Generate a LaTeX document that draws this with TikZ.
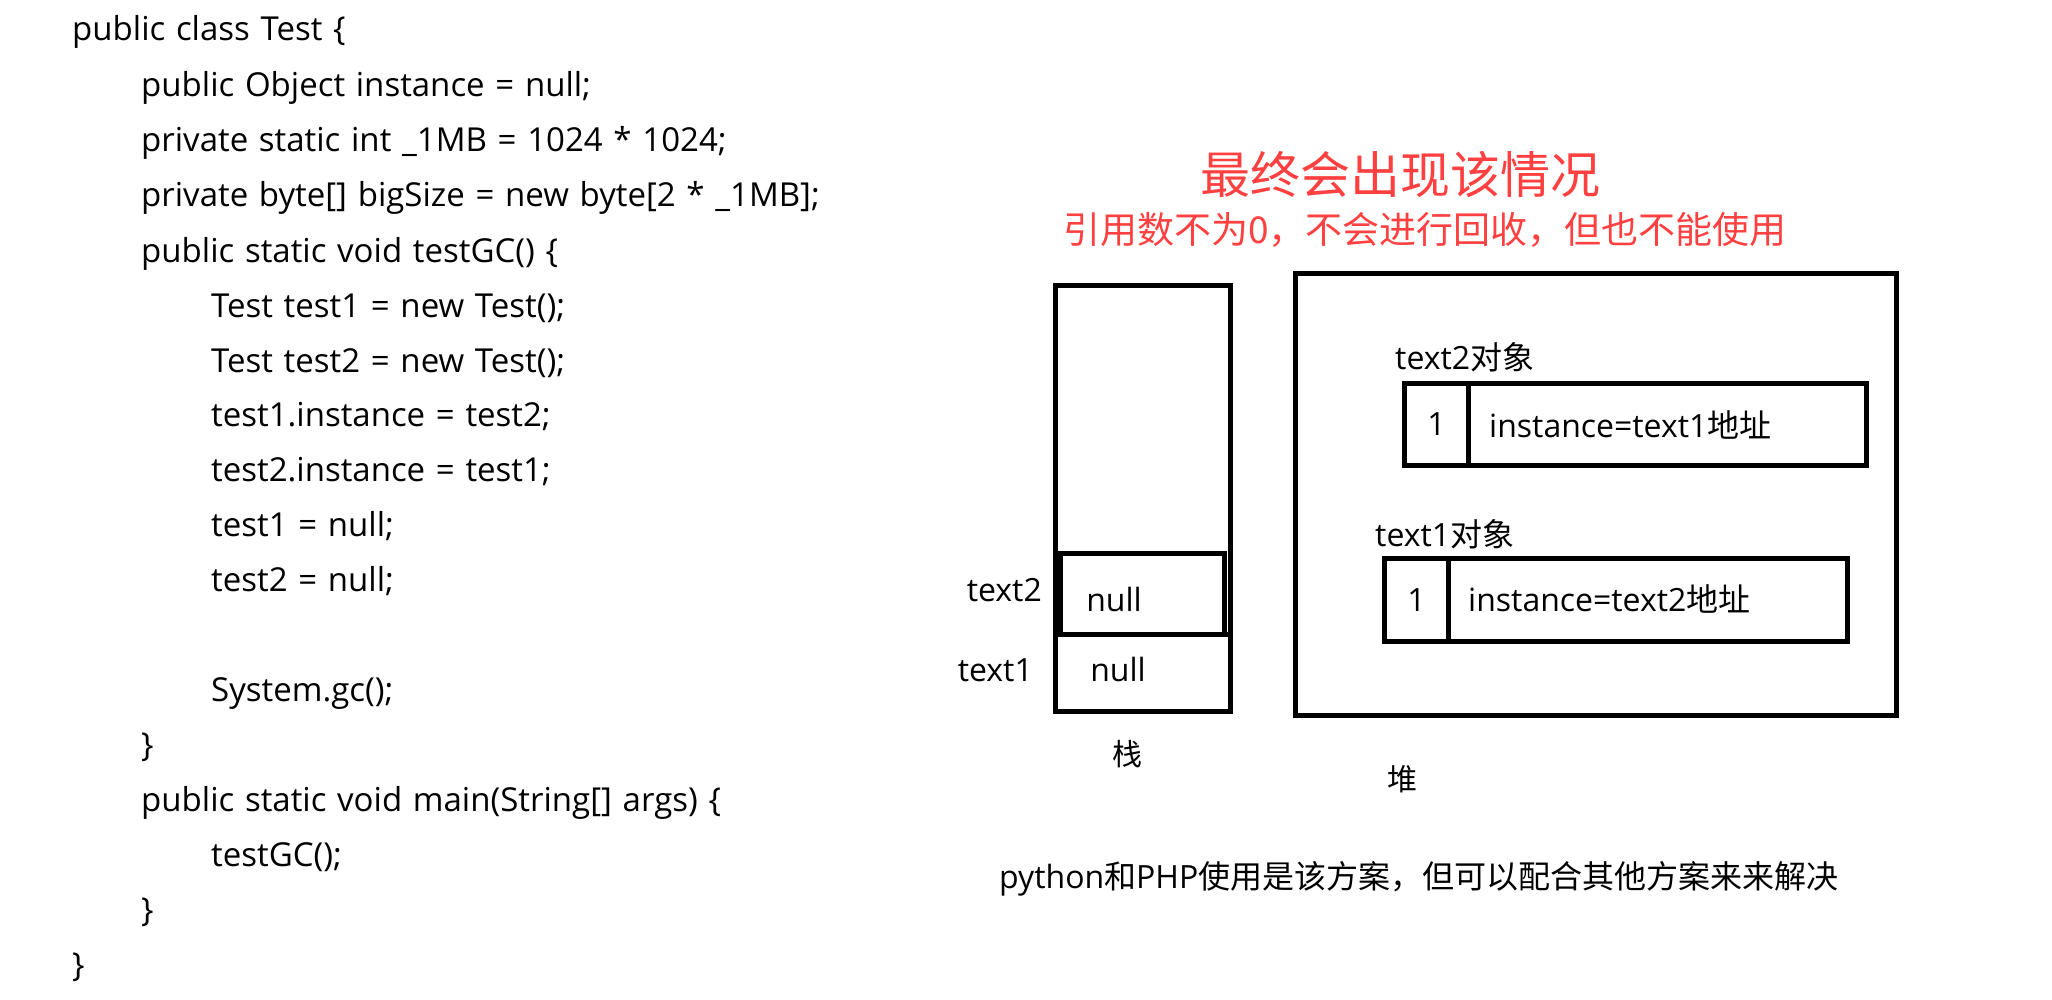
\documentclass[tikz,border=0pt]{standalone}
\usepackage{fontspec}
\setmainfont{Open Sans}
\newfontfamily\cjk{Noto Sans CJK SC}
\newfontfamily\codefont[WordSpace=1.25]{Open Sans}
\definecolor{alertred}{RGB}{255,64,64}
\tikzset{
  codeline/.style={anchor=base west, inner sep=0pt, font=\codefont\fontsize{33}{36}\selectfont},
  lbl/.style={inner sep=0pt, font=\fontsize{32}{35}\selectfont},
  cell/.style={draw, line width=5pt, anchor=north west, inner sep=0pt},
}
\begin{document}
\begin{tikzpicture}[x=1pt,y=-1pt]
\useasboundingbox[fill=white] (0,0) rectangle (2052,1000);
% code
\node[codeline] (c1) at (72,41) {public class Test \{};
\node[codeline] (c2) at (141,97) {public Object instance = null;};
\node[codeline] (c3) at (141,152) {private static int \_1MB = 1024 * 1024;};
\node[codeline] (c4) at (141,207) {private byte[] bigSize = new byte[2 * \_1MB];};
\node[codeline] (c5) at (141,262) {public static void testGC() \{};
\node[codeline] (c6) at (211,317) {Test test1 = new Test();};
\node[codeline] (c7) at (211,372) {Test test2 = new Test();};
\node[codeline] (c8) at (211,426) {test1.instance = test2;};
\node[codeline] (c9) at (211,481) {test2.instance = test1;};
\node[codeline] (c10) at (211,536) {test1 = null;};
\node[codeline] (c11) at (211,591) {test2 = null;};
\node[codeline] (c12) at (211,701) {System.gc();};
\node[codeline] (c13) at (141,756) {\}};
\node[codeline] (c14) at (141,811) {public static void main(String[] args) \{};
\node[codeline] (c15) at (211,866) {testGC();};
\node[codeline] (c16) at (141,921) {\}};
\node[codeline] (c17) at (72,976) {\}};
% titles
\node[inner sep=0pt, text=alertred, font=\cjk\fontsize{50}{54}\selectfont] (title) at (1400,174) {最终会出现该情况};
\node[inner sep=0pt, text=alertred, font=\cjk\fontsize{37}{40}\selectfont] (sub) at (1425,230) {引用数不为0，不会进行回收，但也不能使用};
% stack
\node[cell, minimum width=175pt, minimum height=426pt] (stack) at (1053,283) {};
\node[cell, minimum width=164pt, minimum height=81pt] (s2) at (1058,551) {};
\node[cell, minimum width=175pt, minimum height=77pt] (s1) at (1053,632) {};
\node[lbl] (n2) at (1114,599) {null};
\node[lbl] (n1) at (1118,669) {null};
\node[lbl, anchor=east] (t2) at (1042,590) {text2};
\node[lbl, anchor=east] (t1) at (1033,670) {text1};
\node[lbl, font=\cjk\fontsize{30}{33}\selectfont] (zhan) at (1127,754) {栈};
% heap
\node[cell, minimum width=601pt, minimum height=442pt] (heap) at (1293,271) {};
\node[cell, minimum width=64pt, minimum height=82pt] (o2c) at (1402,381) {};
\node[cell, minimum width=398pt, minimum height=82pt] (o2i) at (1466,381) {};
\node[cell, minimum width=64pt, minimum height=83pt] (o1c) at (1382,556) {};
\node[cell, minimum width=399pt, minimum height=83pt] (o1i) at (1446,556) {};
\node[lbl, anchor=west] (o2l) at (1395,357) {text2{\cjk 对象}};
\node[lbl, anchor=west] (o1l) at (1375,534) {text1{\cjk 对象}};
\node[lbl] (o2n) at (o2c.center) {1};
\node[lbl] (o1n) at (o1c.center) {1};
\node[lbl, anchor=west] (o2t) at (1489,425) {instance=text1{\cjk 地址}};
\node[lbl, anchor=west] (o1t) at (1468,599) {instance=text2{\cjk 地址}};
\node[lbl, font=\cjk\fontsize{30}{33}\selectfont] (dui) at (1402,779) {堆};
% note
\node[lbl, anchor=west] (note) at (999,879) {python{\cjk 和}PHP{\cjk 使用是该方案，但可以配合其他方案来来解决}};
\end{tikzpicture}
\end{document}
